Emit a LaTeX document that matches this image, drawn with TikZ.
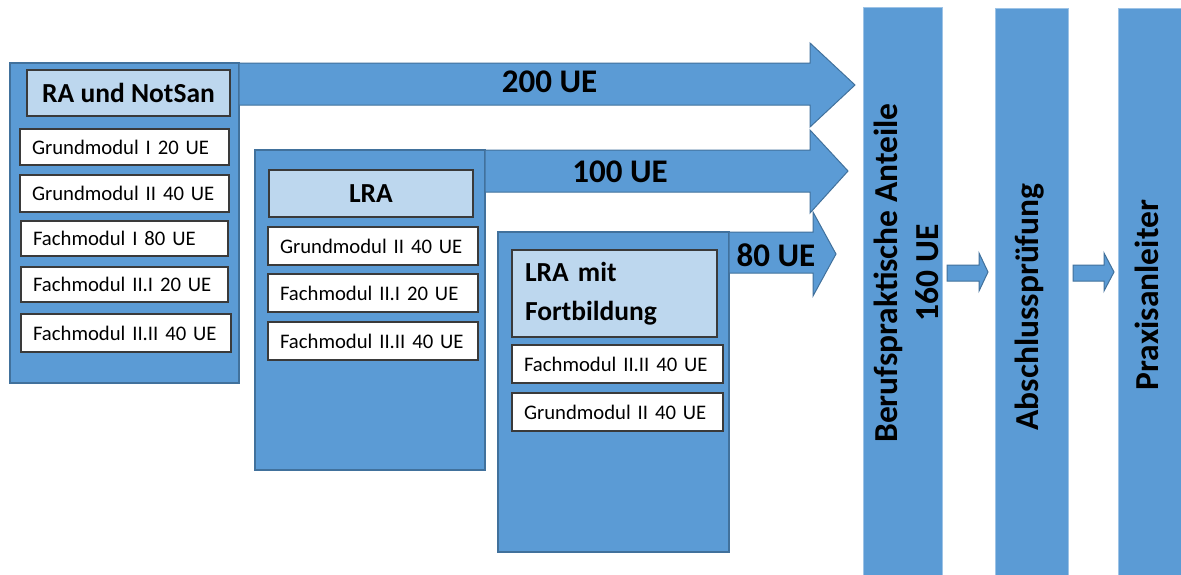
\documentclass[tikz,border=0pt]{standalone}
\usepackage{fontspec}
\setmainfont{Carlito}
\usetikzlibrary{calc}
\definecolor{blu}{HTML}{5B9BD5}
\definecolor{bluedge}{HTML}{41719C}
\definecolor{hdr}{HTML}{BDD7EE}
\definecolor{edge}{HTML}{3A3A3A}
\definecolor{talledge}{HTML}{9DC3E6}
\begin{document}
\begin{tikzpicture}[x=1pt,y=-1pt,
  grp/.style={draw=bluedge, line width=1.2pt, fill=blu, anchor=north west, inner sep=0pt, outer sep=0pt},
  hdrbox/.style={draw=edge, line width=1.3pt, fill=hdr, anchor=north west, inner sep=0pt, outer sep=0pt, font=\bfseries\fontsize{27.5}{39}\selectfont},
  modbox/.style={draw=edge, line width=1.2pt, fill=white, anchor=north west, inner xsep=12pt, inner ysep=0pt, outer sep=0pt, align=left, font=\fontsize{20.7}{25}\selectfont},
  tallbox/.style={draw=talledge, line width=1pt, fill=blu, anchor=north west, inner sep=0pt, outer sep=0pt},
  blk/.style={draw=bluedge, line width=1pt, fill=blu, line join=miter},
  biglbl/.style={font=\bfseries\fontsize{33}{41}\selectfont, inner sep=0pt},
  vlbl/.style={font=\bfseries\fontsize{33.5}{41}\selectfont, inner sep=0pt, rotate=90, align=center}
]
\clip (0,0) rectangle (1181,574);
\fill[white] (0,0) rectangle (1181,574);

% group boxes
\node[grp, minimum width=229pt, minimum height=320pt] (ra) at (10,63) {};
\node[grp, minimum width=230pt, minimum height=320pt] (lra) at (255,150) {};
\node[grp, minimum width=231pt, minimum height=320pt] (lraf) at (498,232) {};

% headers
\node[hdrbox, minimum width=203pt, minimum height=46pt] (rah) at (27,70) {RA und NotSan};
\node[hdrbox, minimum width=204pt, minimum height=47pt] (lrah) at (269,170) {LRA};
\node[hdrbox, minimum width=205pt, minimum height=87pt, text width=179pt, align=left] (lrafh) at (512,250) {LRA mit\\Fortbildung};

% modules RA
\node[modbox, text width=185pt, minimum height=36pt] (ra1) at (20,129) {\mbox{Grundmodul I 20 UE}};
\node[modbox, text width=185pt, minimum height=37pt] (ra2) at (20,175) {\mbox{Grundmodul II 40 UE}};
\node[modbox, text width=183pt, minimum height=35pt] (ra3) at (21,221) {\mbox{Fachmodul I 80 UE}};
\node[modbox, text width=183pt, minimum height=35pt] (ra4) at (21,267) {\mbox{Fachmodul II.I 20 UE}};
\node[modbox, text width=186pt, minimum height=38pt] (ra5) at (21,314) {\mbox{Fachmodul II.II 40 UE}};

% modules LRA
\node[modbox, text width=186pt, minimum height=38pt] (lra1) at (268,227) {\mbox{Grundmodul II 40 UE}};
\node[modbox, text width=186pt, minimum height=38pt] (lra2) at (268,274) {\mbox{Fachmodul II.I 20 UE}};
\node[modbox, text width=186pt, minimum height=38pt] (lra3) at (268,322) {\mbox{Fachmodul II.II 40 UE}};

% modules LRA mit Fortbildung
\node[modbox, text width=187pt, minimum height=38pt] (lraf1) at (512,345) {\mbox{Fachmodul II.II 40 UE}};
\node[modbox, text width=187pt, minimum height=38pt] (lraf2) at (512,393) {\mbox{Grundmodul II 40 UE}};

% tall boxes
\node[tallbox, minimum width=79pt, minimum height=575pt] (bp) at (863,7) {};
\node[tallbox, minimum width=73pt, minimum height=575pt] (ab) at (995,8) {};
\node[tallbox, minimum width=80pt, minimum height=575pt] (pa) at (1118,8) {};

% block arrows
\draw[blk] (ra.north east) -- ++(571,0) -- ++(0,-20) -- ++(45,42) -- ++(-45,42) -- ++(0,-22) -- ++(-571,0) -- cycle;
\draw[blk] (lra.north east) -- ++(325,0) -- ++(0,-20) -- ++(38,41) -- ++(-38,42) -- ++(0,-21) -- ++(-325,0) -- cycle;
\draw[blk] (lraf.north east) -- ++(84,0) -- ++(0,-20) -- ++(23,42) -- ++(-23,42) -- ++(0,-23) -- ++(-84,0) -- cycle;

\coordinate (s1) at ($(bp.east|-0,265)+(5,0)$);
\coordinate (s2) at ($(ab.east|-0,265)+(5,0)$);
\draw[blk] (s1) -- ++(32,0) -- ++(0,-12) -- ++(9,19) -- ++(-9,19) -- ++(0,-10) -- ++(-32,0) -- cycle;
\draw[blk] (s2) -- ++(31,0) -- ++(0,-12) -- ++(10,19) -- ++(-10,19) -- ++(0,-10) -- ++(-31,0) -- cycle;

% labels
\node[biglbl] (l200) at (549.5,82) {200 UE};
\node[biglbl] (l100) at (620,171.5) {100 UE};
\node[biglbl] (l80) at (776,255) {80 UE};

\node[vlbl] (bpt) at (906,273) {Berufspraktische Anteile\\160 UE};
\node[vlbl] (abt) at (1030,307) {Abschlussprüfung};
\node[vlbl] (pat) at (1147,295) {Praxisanleiter};
\end{tikzpicture}
\end{document}
